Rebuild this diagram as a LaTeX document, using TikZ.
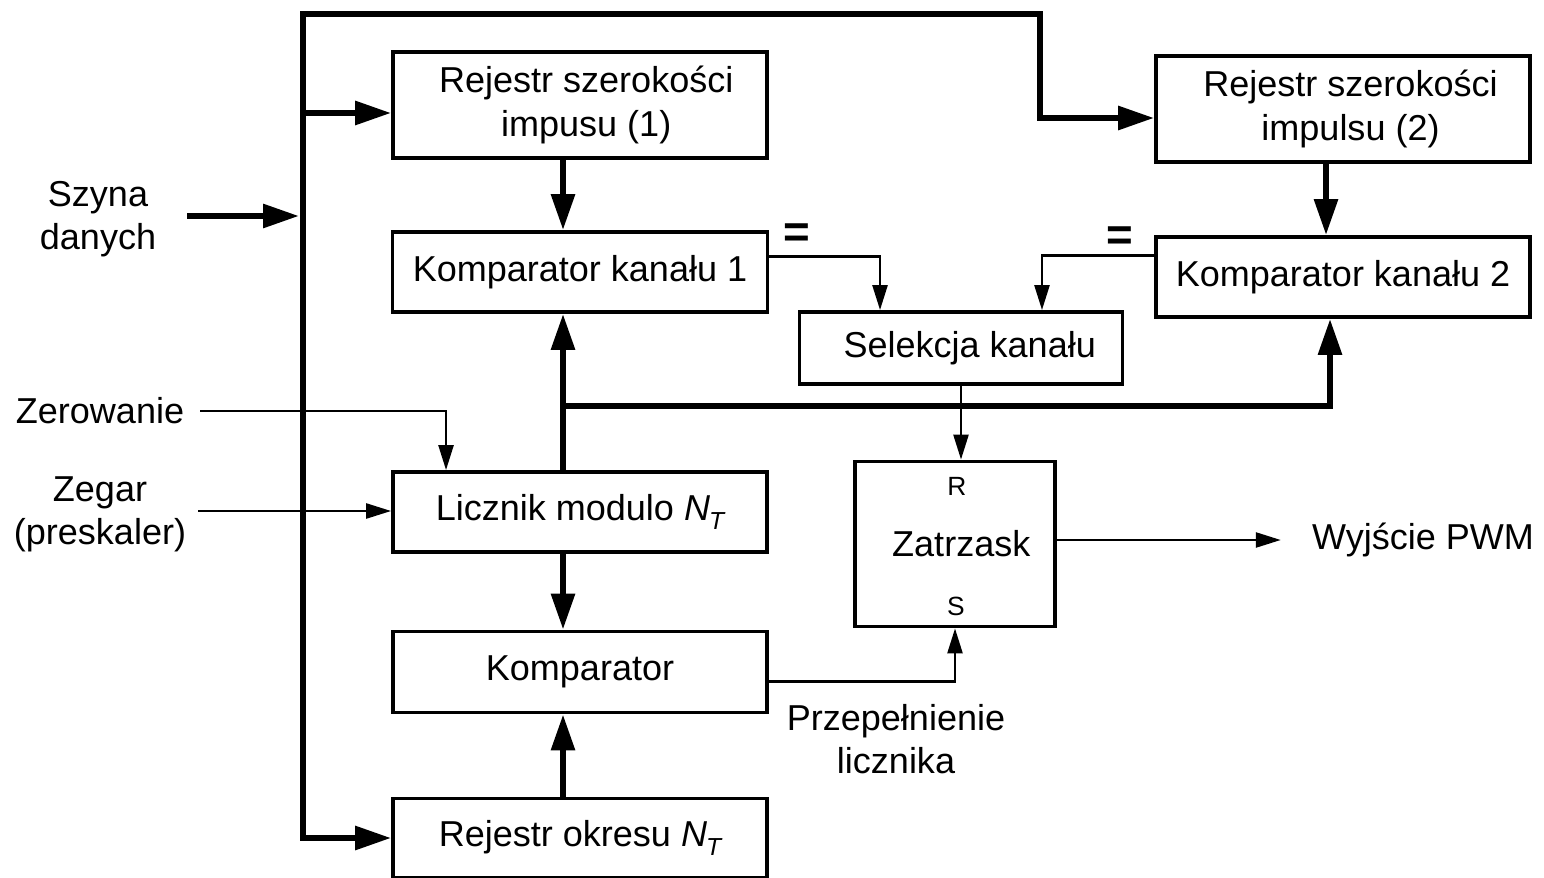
\documentclass[tikz,border=0pt]{standalone}
\usepackage{fontspec}
\setmainfont{Liberation Sans}
\usetikzlibrary{arrows.meta}
\newcommand{\NT}{\textit{N}\kern-0.5pt\raisebox{-0.45ex}{\fontsize{14}{14}\selectfont\itshape T}}
\begin{document}
\begin{tikzpicture}[x=0.02cm,y=-0.02cm,
  font=\fontsize{20.5}{24.5}\selectfont,
  box/.style={draw,line width=2.2pt,rectangle,inner sep=0pt,align=center},
  bus/.style={line width=3.4pt,line cap=rect},
  sig/.style={line width=1.4pt},
  bigtip/.style={-{Triangle[length=0.72cm,width=0.46cm]}},
  smalltip/.style={-{Triangle[length=0.5cm,width=0.3cm]}},
  lbl/.style={inner sep=0pt,align=center},
  eqs/.style={inner sep=0pt,font=\fontsize{26}{26}\selectfont\bfseries},
  pin/.style={inner sep=0pt,font=\fontsize{15}{15}\selectfont}]
\useasboundingbox (0,0) rectangle (1544,878);

% blocks
\node[box,minimum width=7.48cm,minimum height=2.12cm] (rsi1) at (580,105) {\hspace*{0.25cm}Rejestr szerokości\\\hspace*{0.25cm}impusu (1)};
\node[box,minimum width=7.5cm,minimum height=1.6cm] (kk1) at (580,272) {Komparator kanału 1};
\node[box,minimum width=7.48cm,minimum height=2.12cm] (rsi2) at (1343,109) {\hspace*{0.3cm}Rejestr szerokości\\\hspace*{0.3cm}impulsu (2)};
\node[box,minimum width=7.48cm,minimum height=1.6cm] (kk2) at (1343,277) {Komparator kanału 2};
\node[box,minimum width=6.46cm,minimum height=1.44cm] (sel) at (961,348) {\hspace*{0.35cm}Selekcja kanału};
\node[box,minimum width=7.48cm,minimum height=1.6cm] (lic) at (580,512) {Licznik modulo \NT};
\node[box,minimum width=7.48cm,minimum height=1.62cm] (kom) at (580,672) {Komparator};
\node[box,minimum width=7.48cm,minimum height=1.58cm] (rok) at (580,838) {Rejestr okresu \NT};
\node[box,minimum width=4cm,minimum height=3.3cm] (zat) at (955,544) {\hspace*{0.25cm}Zatrzask};
\node[pin] (rin) at (957,486) {R};
\node[pin] (sin) at (956,606) {S};

% outer labels
\node[lbl] (szyna) at (98,219) {Szyna\\danych};
\node[lbl] (zer) at (100,411) {Zerowanie};
\node[lbl] (zeg) at (100,514) {Zegar\\(preskaler)};
\node[lbl] (pwm) at (1423,540) {Wyjście PWM};
\node[lbl] (prz) at (896,739) {Przepełnienie\\licznika};
\node[eqs] (eq1) at (797,236) {=};
\node[eqs] (eq2) at (1120,239) {=};

% data bus
\coordinate (bustop) at (303,14);
\coordinate (busbend) at (1040,14);
\coordinate (busbot) at (303,838);
\coordinate (r1in) at ([yshift=-0.16cm]rsi1.west);
\coordinate (r2in) at ([yshift=-0.18cm]rsi2.west);
\coordinate (szin) at (190,216);
\coordinate (szend) at (299,216);
\draw[bus,bigtip] (busbot) -- (bustop) -- (busbend) |- (r2in);
\draw[bus,bigtip] (busbot) -- (rok.west);
\draw[bus,bigtip] (bustop |- r1in) -- (r1in);
\draw[bus,bigtip] (szin) -- (szend);

% wide internal paths
\draw[bus,bigtip] ([xshift=-0.34cm]rsi1.south) -- ([xshift=-0.34cm]kk1.north);
\draw[bus,bigtip] ([xshift=-0.34cm]rsi2.south) -- ([xshift=-0.34cm]kk2.north);
\draw[bus,bigtip] ([xshift=-0.34cm]lic.north) -- ([xshift=-0.34cm]kk1.south);
\draw[bus,bigtip] ([xshift=-0.34cm]lic.south) -- ([xshift=-0.34cm]kom.north);
\draw[bus,bigtip] ([xshift=-0.34cm]rok.north) -- ([xshift=-0.34cm]kom.south);
\coordinate (tap) at (563,406);
\draw[bus,bigtip] (tap) -| ([xshift=-0.26cm]kk2.south);

% single signals
\coordinate (zgin) at (198,511);
\draw[sig,smalltip] ([xshift=0.32cm]zer.east) -| ([xshift=-2.68cm]lic.north);
\draw[sig,smalltip] (zgin) -- (zgin -| lic.west);
\draw[sig,smalltip] ([yshift=0.31cm]kk1.east) -| ([xshift=-1.62cm]sel.north);
\draw[sig,smalltip] ([yshift=0.43cm]kk2.west) -| ([xshift=1.62cm]sel.north);
\draw[sig,smalltip] (sel.south) -- (sel.south |- zat.north);
\draw[sig,smalltip] ([yshift=-0.19cm]kom.east) -| (zat.south);
\draw[sig,smalltip] (zat.east |- pwm.west) -- ([xshift=-0.62cm]pwm.west);
\end{tikzpicture}
\end{document}
